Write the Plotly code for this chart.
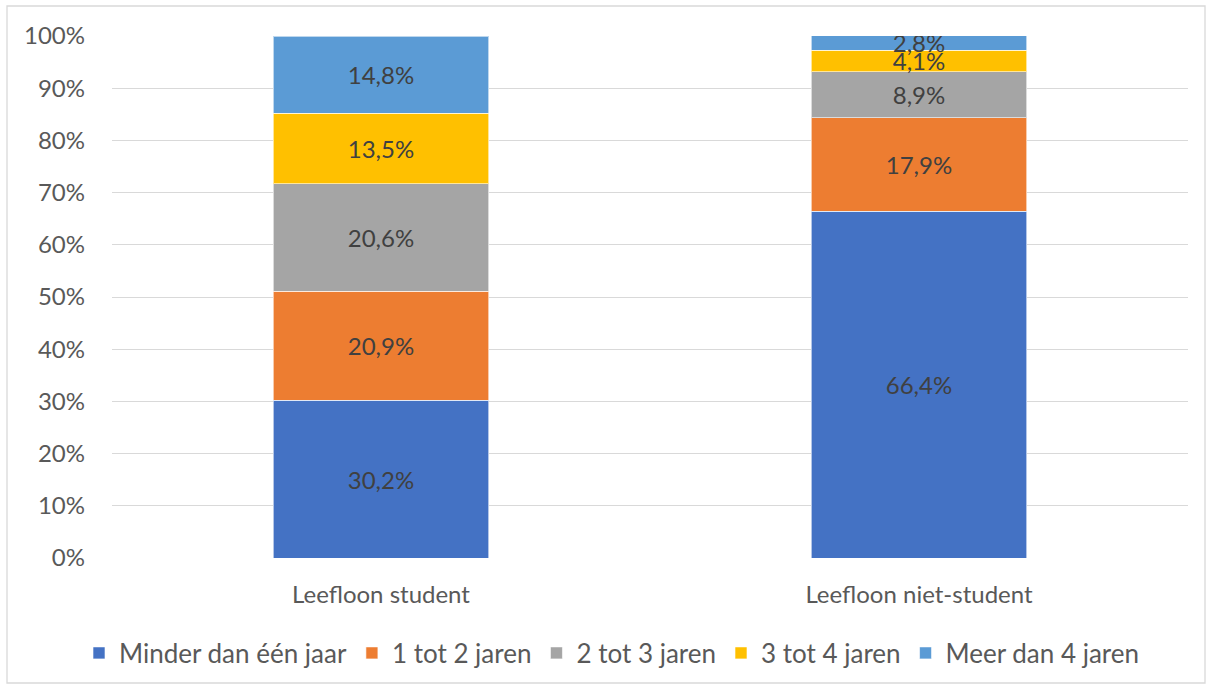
import plotly.graph_objects as go

categories = ["Leefloon student", "Leefloon niet-student"]
series_names = ["Minder dan één jaar", "1 tot 2 jaren", "2 tot 3 jaren", "3 tot 4 jaren", "Meer dan 4 jaren"]
minder_dan_een_jaar = [30.2, 66.4]
een_tot_twee = [20.9, 17.9]
twee_tot_drie = [20.6, 8.9]
drie_tot_vier = [13.5, 4.1]
meer_dan_vier = [14.8, 2.8]
colors = ["#4472C4", "#ED7D31", "#A5A5A5", "#FFC000", "#5B9BD5"]
y_ticks = list(range(0, 101, 10))
y_tick_labels = [f"{t}%" for t in y_ticks]

series_values = [minder_dan_een_jaar, een_tot_twee, twee_tot_drie, drie_tot_vier, meer_dan_vier]

FONT = "Lato, Calibri, Carlito, sans-serif"
fig = go.Figure()
for name, vals, col in zip(series_names, series_values, colors):
    fig.add_trace(go.Bar(
        name=name, x=categories, y=vals,
        marker=dict(color=col, line=dict(color="rgba(255,255,255,0.6)", width=1)),
        text=[f"{v:.1f}%".replace(".", ",") for v in vals],
        textposition="inside", insidetextanchor="middle",
        textfont=dict(family=FONT, size=24, color="#404040"),
        constraintext="none",
        hoverinfo="skip",
    ))

fig.update_layout(
    barmode="stack", bargap=0.6,
    width=1212, height=689,
    margin=dict(l=112, r=24, t=36, b=131, autoexpand=False),
    paper_bgcolor="white", plot_bgcolor="white",
    font=dict(family=FONT, size=24, color="#595959"),
    uniformtext=dict(mode=False),
    xaxis=dict(showgrid=False, showline=False, ticks="", ticklabelstandoff=20,
               tickfont=dict(size=24, color="#595959")),
    yaxis=dict(range=[0, 100], tickvals=y_ticks, ticktext=y_tick_labels,
               showgrid=True, gridcolor="#D9D9D9", gridwidth=1.3, zeroline=False,
               showline=False, ticks="", ticklabelstandoff=26,
               tickfont=dict(size=24, color="#595959")),
    legend=dict(orientation="h", x=(79 - 112) / 1076, xanchor="left", y=-95 / 522, yanchor="middle",
                font=dict(size=26, color="#595959"), traceorder="normal",
                itemwidth=30),
    shapes=[dict(type="rect", xref="paper", yref="paper",
                 x0=(7 - 112) / 1076, x1=(1205 - 112) / 1076,
                 y0=(558 - 683) / 522, y1=(558 - 6) / 522,
                 line=dict(color="#D9D9D9", width=1.3), fillcolor="rgba(0,0,0,0)", layer="below")],
)

fig.write_html("out.html", config={"displayModeBar": False},
               post_script="document.body.style.margin='0';document.body.style.overflow='hidden';")
